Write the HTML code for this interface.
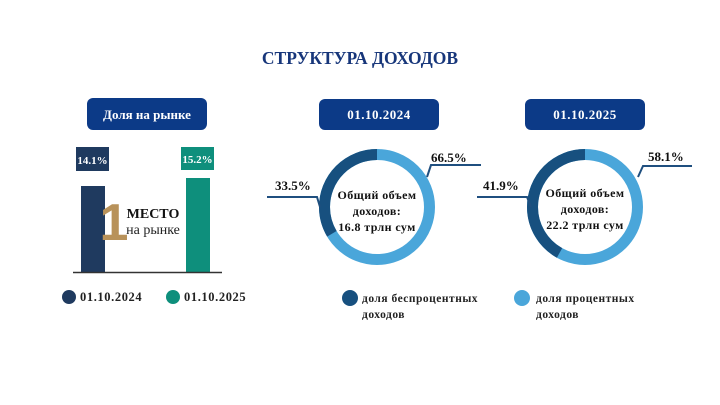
<!DOCTYPE html>
<html><head><meta charset="utf-8"><style>
body{margin:0;background:#fff}
svg{display:block}
text{font-family:"Liberation Serif","DejaVu Serif",serif;font-weight:bold}
</style></head><body>
<svg width="720" height="405" viewBox="0 0 720 405">
<text x="360" y="64" text-anchor="middle" font-size="17.5" fill="#17367a">СТРУКТУРА ДОХОДОВ</text>
<rect x="87" y="98" width="120" height="32" rx="6" fill="#0c3a87"/>
<text x="147" y="119" text-anchor="middle" font-size="13" fill="#fff">Доля на рынке</text>
<rect x="319" y="99" width="120" height="31" rx="6" fill="#0c3a87"/>
<text x="379" y="119" text-anchor="middle" font-size="13" fill="#fff" letter-spacing="0.5">01.10.2024</text>
<rect x="525" y="99" width="120" height="31" rx="6" fill="#0c3a87"/>
<text x="585" y="119" text-anchor="middle" font-size="13" fill="#fff" letter-spacing="0.5">01.10.2025</text>

<rect x="76" y="147" width="33" height="24" fill="#1f3a5f"/>
<text x="92.5" y="164" text-anchor="middle" font-size="11" fill="#fff">14.1%</text>
<rect x="181" y="147" width="33" height="23" fill="#0e8f7c"/>
<text x="197.5" y="163" text-anchor="middle" font-size="11" fill="#fff">15.2%</text>
<rect x="81" y="186" width="24" height="86" fill="#1f3a5f"/>
<rect x="186" y="178" width="24" height="94" fill="#0e8f7c"/>
<line x1="73" y1="272.5" x2="222" y2="272.5" stroke="#333" stroke-width="1.5"/>
<text x="114" y="240" text-anchor="middle" font-size="52" fill="#b8925a" style="font-family:'Liberation Sans',sans-serif;font-weight:bold">1</text>
<text x="153" y="218" text-anchor="middle" font-size="14" fill="#111">МЕСТО</text>
<text x="153" y="234" text-anchor="middle" font-size="14" fill="#222" style="font-weight:normal">на рынке</text>
<circle cx="69" cy="297" r="7" fill="#1f3a5f"/>
<text x="80" y="301" font-size="12.5" fill="#222" letter-spacing="0.6">01.10.2024</text>
<circle cx="173" cy="297" r="7" fill="#0e8f7c"/>
<text x="184" y="301" font-size="12.5" fill="#222" letter-spacing="0.6">01.10.2025</text>

<g fill="none" stroke-width="11">
<circle cx="377" cy="207" r="52.5" stroke="#4aa6da"/>
<circle cx="377" cy="207" r="52.5" stroke="#17507f" stroke-dasharray="110.5 500" transform="rotate(-90 377 207) scale(1,-1) translate(0,-414)"/>
<circle cx="585" cy="207" r="52.5" stroke="#4aa6da"/>
<circle cx="585" cy="207" r="52.5" stroke="#17507f" stroke-dasharray="138.2 500" transform="rotate(-90 585 207) scale(1,-1) translate(0,-414)"/>
</g>
<g fill="none" stroke="#1f4f7f" stroke-width="2">
<polyline points="427,177 431,165 481,165"/>
<polyline points="267,197 317,197 320,207"/>
<polyline points="638,177 643,166 692,166"/>
<polyline points="477,197 527,197 531,207"/>
</g>
<g font-size="13" fill="#111">
<text x="431" y="162">66.5%</text>
<text x="275" y="190">33.5%</text>
<text x="648" y="161">58.1%</text>
<text x="483" y="190">41.9%</text>
</g>
<g font-size="12" fill="#111" text-anchor="middle" letter-spacing="0.4">
<text x="377" y="199">Общий объем</text>
<text x="377" y="215">доходов:</text>
<text x="377" y="231">16.8 трлн сум</text>
<text x="585" y="197">Общий объем</text>
<text x="585" y="213">доходов:</text>
<text x="585" y="229">22.2 трлн сум</text>
</g>
<circle cx="350" cy="298" r="8" fill="#17507f"/>
<text x="362" y="302" font-size="11.5" fill="#222" letter-spacing="0.5">доля беспроцентных</text>
<text x="362" y="318" font-size="11.5" fill="#222" letter-spacing="0.5">доходов</text>
<circle cx="522" cy="298" r="8" fill="#4aa6da"/>
<text x="536" y="302" font-size="11.5" fill="#222" letter-spacing="0.5">доля процентных</text>
<text x="536" y="318" font-size="11.5" fill="#222" letter-spacing="0.5">доходов</text>
</svg>
</body></html>
